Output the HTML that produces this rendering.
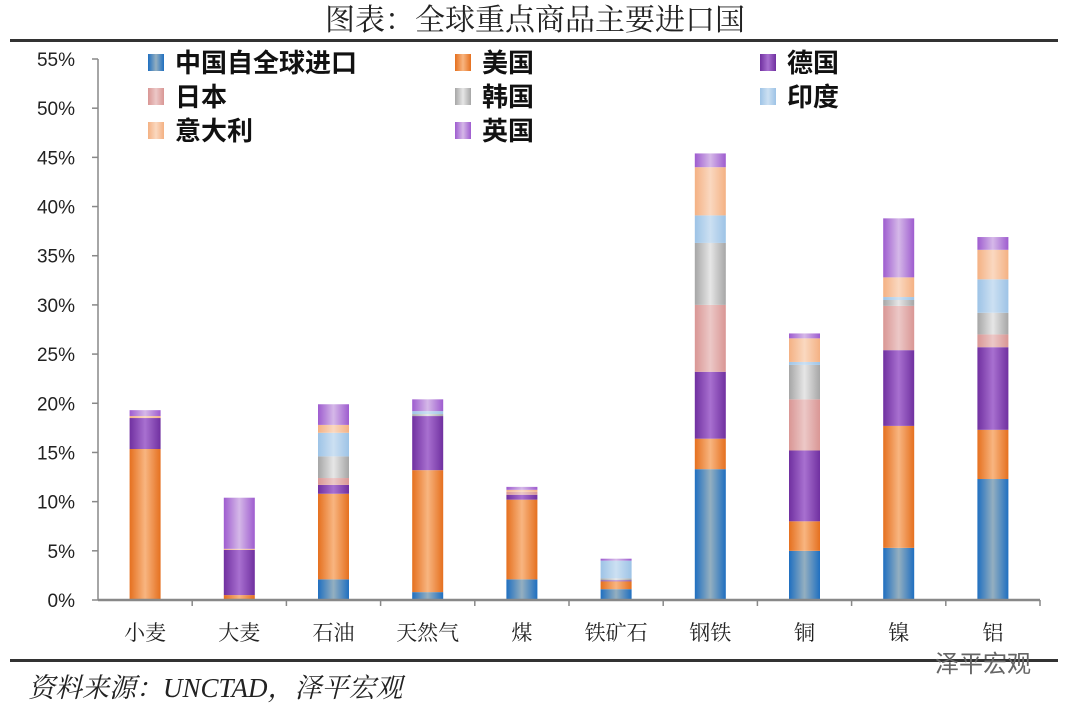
<!DOCTYPE html>
<html><head><meta charset="utf-8"><style>
body{margin:0;background:#fff;width:1071px;height:710px;overflow:hidden;font-family:"Liberation Serif","Noto Serif CJK SC",serif}
</style></head><body>
<svg id="c" width="1071" height="710">
<defs id="defs"></defs>
<text x="535" y="30" text-anchor="middle" font-size="30" fill="#222" font-family="Liberation Serif, Noto Serif CJK SC, serif">图表：全球重点商品主要进口国</text>
<rect x="10" y="39" width="1048" height="3" fill="#333"/>
<rect x="10" y="659" width="1048" height="3" fill="#333"/>
<text x="28" y="697" font-size="27" font-style="italic" fill="#222" font-family="Liberation Serif, Noto Serif CJK SC, serif">资料来源：UNCTAD，泽平宏观</text>
<text x="935" y="672" font-size="24" fill="#666" font-family="Liberation Sans, Noto Sans CJK SC, sans-serif">泽平宏观</text>
<g id="plot"></g>
</svg>
<script>
const categories=["小麦","大麦","石油","天然气","煤","铁矿石","钢铁","铜","镍","铝"];
const seriesNames=["中国自全球进口","美国","德国","日本","韩国","印度","意大利","英国"];
const china=[0,0,2.1,0.8,2.1,1.1,13.3,5.0,5.3,12.3];
const usa=[15.35,0.5,8.7,12.4,8.1,0.8,3.1,3.0,12.4,5.0];
const germany=[3.15,4.6,0.9,5.5,0.5,0.1,6.8,7.2,7.7,8.4];
const japan=[0,0,0.7,0,0.3,0,6.8,5.2,4.5,1.3];
const korea=[0,0,2.2,0.2,0,0.2,6.3,3.5,0.6,2.2];
const india=[0,0,2.4,0.3,0,1.8,2.8,0.3,0.3,3.4];
const italy=[0.2,0.1,0.8,0,0.2,0,4.9,2.4,2.0,3.0];
const uk=[0.6,5.2,2.1,1.2,0.3,0.2,1.4,0.5,6.0,1.3];
const yTicks=[0,5,10,15,20,25,30,35,40,45,50,55];
const series=[china,usa,germany,japan,korea,india,italy,uk];
const edge=["#1f6fc0","#e5701f","#7030a0","#d99694","#a6a6a6","#9dc3e6","#f4b183","#9e5ccf"];
const mid=["#94afc0","#f8b580","#a870d0","#ecc8c7","#e6e6e6","#cce0f2","#fad8c0","#d5b8e8"];
const NS="http://www.w3.org/2000/svg";
const X0=98,X1=1040,Y0=600,YT=59;
const y=v=>Y0-(v/55)*(Y0-YT);
const band=(X1-X0)/categories.length;
const xc=i=>X0+band*(i+0.5);
const defs=document.getElementById('defs'),g=document.getElementById('plot');
function mk(t,a,p){const e=document.createElementNS(NS,t);for(const k in a)e.setAttribute(k,a[k]);(p||g).appendChild(e);return e;}
edge.forEach((c,k)=>{const lg=mk('linearGradient',{id:'g'+k,x1:0,x2:1,y1:0,y2:0},defs);
mk('stop',{offset:0,'stop-color':c},lg);mk('stop',{offset:0.5,'stop-color':mid[k]},lg);mk('stop',{offset:1,'stop-color':c},lg);});
yTicks.forEach(t=>{const tx=mk('text',{x:75,y:y(t)+7,'text-anchor':'end','font-size':19,fill:'#222','font-family':'Liberation Sans, sans-serif'});tx.textContent=t+'%';


const tk=mk('line',{x1:92,x2:98,y1:y(t),y2:y(t),stroke:'#888','stroke-width':1.5});

});
const ya=mk('line',{x1:98,x2:98,y1:YT,y2:Y0,stroke:'#888','stroke-width':1.5});


categories.forEach((c,i)=>{let acc=0;
series.forEach((s,k)=>{const v=s[i];if(v<=0)return;const r=mk('rect',{x:xc(i)-15.5,y:y(acc+v),width:31,height:y(acc)-y(acc+v),fill:'url(#g'+k+')'});

acc+=v;});
const t=mk('text',{x:xc(i),y:640,'text-anchor':'middle','font-size':21,fill:'#222','font-family':'Liberation Serif, Noto Serif CJK SC, serif'});t.textContent=c;


const tk=mk('line',{x1:X0+band*(i+1),x2:X0+band*(i+1),y1:Y0,y2:Y0+6,stroke:'#888','stroke-width':1.5});

});
const xa=mk('line',{x1:X0,x2:X1,y1:Y0,y2:Y0,stroke:'#888','stroke-width':2.5});


const lx=[148,455,760],ly=[63,97,131];
seriesNames.forEach((n,k)=>{const cx=lx[k%3],cy=ly[Math.floor(k/3)];
const r=mk('rect',{x:cx,y:cy-9,width:16,height:17,fill:'url(#g'+k+')'});


const t=mk('text',{x:cx+27,y:cy+9,'font-size':26,'font-weight':'bold',fill:'#111','font-family':'Liberation Sans, Noto Sans CJK SC, sans-serif'});t.textContent=n;

});
</script>
</body></html>
